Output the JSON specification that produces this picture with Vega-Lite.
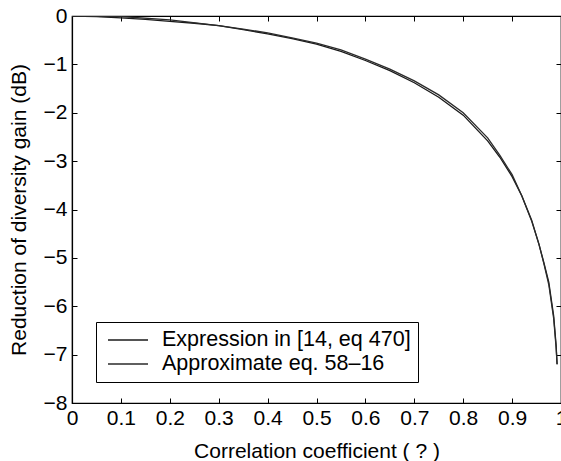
{
  "$schema": "https://vega.github.io/schema/vega-lite/v6.json",
  "width": 489,
  "height": 387,
  "autosize": {"type": "none"},
  "padding": {"left": 72, "top": 16, "right": 0, "bottom": 58},
  "background": "white",
  "config": {
    "font": "Liberation Sans",
    "view": {"stroke": "black", "strokeWidth": 1.2},
    "axis": {
      "grid": false,
      "domainColor": "black",
      "domainWidth": 1.2,
      "tickColor": "black",
      "tickWidth": 1,
      "tickSize": -5,
      "labelFont": "Liberation Sans",
      "labelFontSize": 21,
      "labelColor": "black",
      "titleFont": "Liberation Sans",
      "titleFontSize": 21,
      "titleFontWeight": "normal",
      "titleColor": "black"
    },
    "legend": {
      "labelFont": "Liberation Sans",
      "labelFontSize": 21.5,
      "labelColor": "black"
    }
  },
  "data": {
    "values": [
      {"rho": 0, "gain": 0, "series": "Expression in [14, eq 470]"},
      {"rho": 0.05, "gain": -0.01, "series": "Expression in [14, eq 470]"},
      {"rho": 0.1, "gain": -0.04, "series": "Expression in [14, eq 470]"},
      {"rho": 0.15, "gain": -0.07, "series": "Expression in [14, eq 470]"},
      {"rho": 0.2, "gain": -0.11, "series": "Expression in [14, eq 470]"},
      {"rho": 0.25, "gain": -0.15, "series": "Expression in [14, eq 470]"},
      {"rho": 0.3, "gain": -0.2, "series": "Expression in [14, eq 470]"},
      {"rho": 0.35, "gain": -0.28, "series": "Expression in [14, eq 470]"},
      {"rho": 0.4, "gain": -0.37, "series": "Expression in [14, eq 470]"},
      {"rho": 0.45, "gain": -0.47, "series": "Expression in [14, eq 470]"},
      {"rho": 0.5, "gain": -0.58, "series": "Expression in [14, eq 470]"},
      {"rho": 0.55, "gain": -0.73, "series": "Expression in [14, eq 470]"},
      {"rho": 0.6, "gain": -0.92, "series": "Expression in [14, eq 470]"},
      {"rho": 0.65, "gain": -1.13, "series": "Expression in [14, eq 470]"},
      {"rho": 0.7, "gain": -1.38, "series": "Expression in [14, eq 470]"},
      {"rho": 0.75, "gain": -1.68, "series": "Expression in [14, eq 470]"},
      {"rho": 0.8, "gain": -2.05, "series": "Expression in [14, eq 470]"},
      {"rho": 0.85, "gain": -2.58, "series": "Expression in [14, eq 470]"},
      {"rho": 0.875, "gain": -2.92, "series": "Expression in [14, eq 470]"},
      {"rho": 0.9, "gain": -3.32, "series": "Expression in [14, eq 470]"},
      {"rho": 0.92, "gain": -3.72, "series": "Expression in [14, eq 470]"},
      {"rho": 0.94, "gain": -4.22, "series": "Expression in [14, eq 470]"},
      {"rho": 0.955, "gain": -4.72, "series": "Expression in [14, eq 470]"},
      {"rho": 0.965, "gain": -5.1, "series": "Expression in [14, eq 470]"},
      {"rho": 0.975, "gain": -5.5, "series": "Expression in [14, eq 470]"},
      {"rho": 0.985, "gain": -6.2, "series": "Expression in [14, eq 470]"},
      {"rho": 0.99, "gain": -6.8, "series": "Expression in [14, eq 470]"},
      {"rho": 0.992, "gain": -7.2, "series": "Expression in [14, eq 470]"},
      {"rho": 0, "gain": 0, "series": "Approximate eq. 58–16"},
      {"rho": 0.1, "gain": -0.01, "series": "Approximate eq. 58–16"},
      {"rho": 0.2, "gain": -0.08, "series": "Approximate eq. 58–16"},
      {"rho": 0.3, "gain": -0.2, "series": "Approximate eq. 58–16"},
      {"rho": 0.35, "gain": -0.27, "series": "Approximate eq. 58–16"},
      {"rho": 0.4, "gain": -0.35, "series": "Approximate eq. 58–16"},
      {"rho": 0.45, "gain": -0.45, "series": "Approximate eq. 58–16"},
      {"rho": 0.5, "gain": -0.56, "series": "Approximate eq. 58–16"},
      {"rho": 0.55, "gain": -0.7, "series": "Approximate eq. 58–16"},
      {"rho": 0.6, "gain": -0.89, "series": "Approximate eq. 58–16"},
      {"rho": 0.65, "gain": -1.1, "series": "Approximate eq. 58–16"},
      {"rho": 0.7, "gain": -1.34, "series": "Approximate eq. 58–16"},
      {"rho": 0.75, "gain": -1.63, "series": "Approximate eq. 58–16"},
      {"rho": 0.8, "gain": -2.0, "series": "Approximate eq. 58–16"},
      {"rho": 0.85, "gain": -2.52, "series": "Approximate eq. 58–16"},
      {"rho": 0.875, "gain": -2.88, "series": "Approximate eq. 58–16"},
      {"rho": 0.9, "gain": -3.28, "series": "Approximate eq. 58–16"},
      {"rho": 0.92, "gain": -3.72, "series": "Approximate eq. 58–16"},
      {"rho": 0.94, "gain": -4.24, "series": "Approximate eq. 58–16"},
      {"rho": 0.955, "gain": -4.72, "series": "Approximate eq. 58–16"},
      {"rho": 0.965, "gain": -5.12, "series": "Approximate eq. 58–16"},
      {"rho": 0.975, "gain": -5.55, "series": "Approximate eq. 58–16"},
      {"rho": 0.985, "gain": -6.25, "series": "Approximate eq. 58–16"},
      {"rho": 0.99, "gain": -6.85, "series": "Approximate eq. 58–16"},
      {"rho": 0.992, "gain": -7.2, "series": "Approximate eq. 58–16"}
    ]
  },
  "layer": [
    {
      "mark": {"type": "line", "strokeWidth": 1.3, "clip": true},
      "encoding": {
        "x": {
          "field": "rho", "type": "quantitative",
          "scale": {"domain": [0, 1], "nice": false, "zero": false},
          "axis": {
            "orient": "bottom",
            "title": "Correlation coefficient ( ? )",
            "values": [0, 0.1, 0.2, 0.3, 0.4, 0.5, 0.6, 0.7, 0.8, 0.9, 1],
            "format": "~g",
            "labelPadding": 9,
            "titlePadding": 12,
            "labelFlush": false,
            "labelOverlap": false
          }
        },
        "y": {
          "field": "gain", "type": "quantitative",
          "scale": {"domain": [-8, 0], "nice": false, "zero": false},
          "axis": {
            "orient": "left",
            "title": "Reduction of diversity gain (dB)",
            "values": [-8, -7, -6, -5, -4, -3, -2, -1, 0],
            "format": "d",
            "labelPadding": 10,
            "titlePadding": 14,
            "labelFlush": false,
            "labelOverlap": false
          }
        },
        "color": {
          "field": "series", "type": "nominal",
          "sort": ["Expression in [14, eq 470]", "Approximate eq. 58–16"],
          "scale": {"range": ["#1a1a1a", "#2a2a2a"]},
          "legend": {
            "title": null,
            "orient": "none",
            "legendX": 24,
            "legendY": 306,
            "symbolType": "M-2,0H2",
            "symbolSize": 400,
            "symbolStrokeWidth": 1.3,
            "symbolOffset": 14,
            "labelOffset": 23,
            "padding": 7,
            "rowPadding": 2,
            "strokeColor": "black",
            "fillColor": "white",
            "labelLimit": 400
          }
        }
      }
    },
    {
      "mark": {"type": "line", "opacity": 0},
      "encoding": {
        "x": {
          "field": "rho", "type": "quantitative",
          "scale": {"domain": [0, 1], "nice": false, "zero": false},
          "axis": {
            "orient": "top", "title": null, "labels": false,
            "values": [0, 0.1, 0.2, 0.3, 0.4, 0.5, 0.6, 0.7, 0.8, 0.9, 1]
          }
        },
        "y": {
          "field": "gain", "type": "quantitative",
          "scale": {"domain": [-8, 0], "nice": false, "zero": false},
          "axis": {
            "orient": "right", "title": null, "labels": false,
            "values": [-8, -7, -6, -5, -4, -3, -2, -1, 0]
          }
        },
        "detail": {"field": "series", "type": "nominal"}
      }
    }
  ],
  "resolve": {"axis": {"x": "independent", "y": "independent"}}
}
